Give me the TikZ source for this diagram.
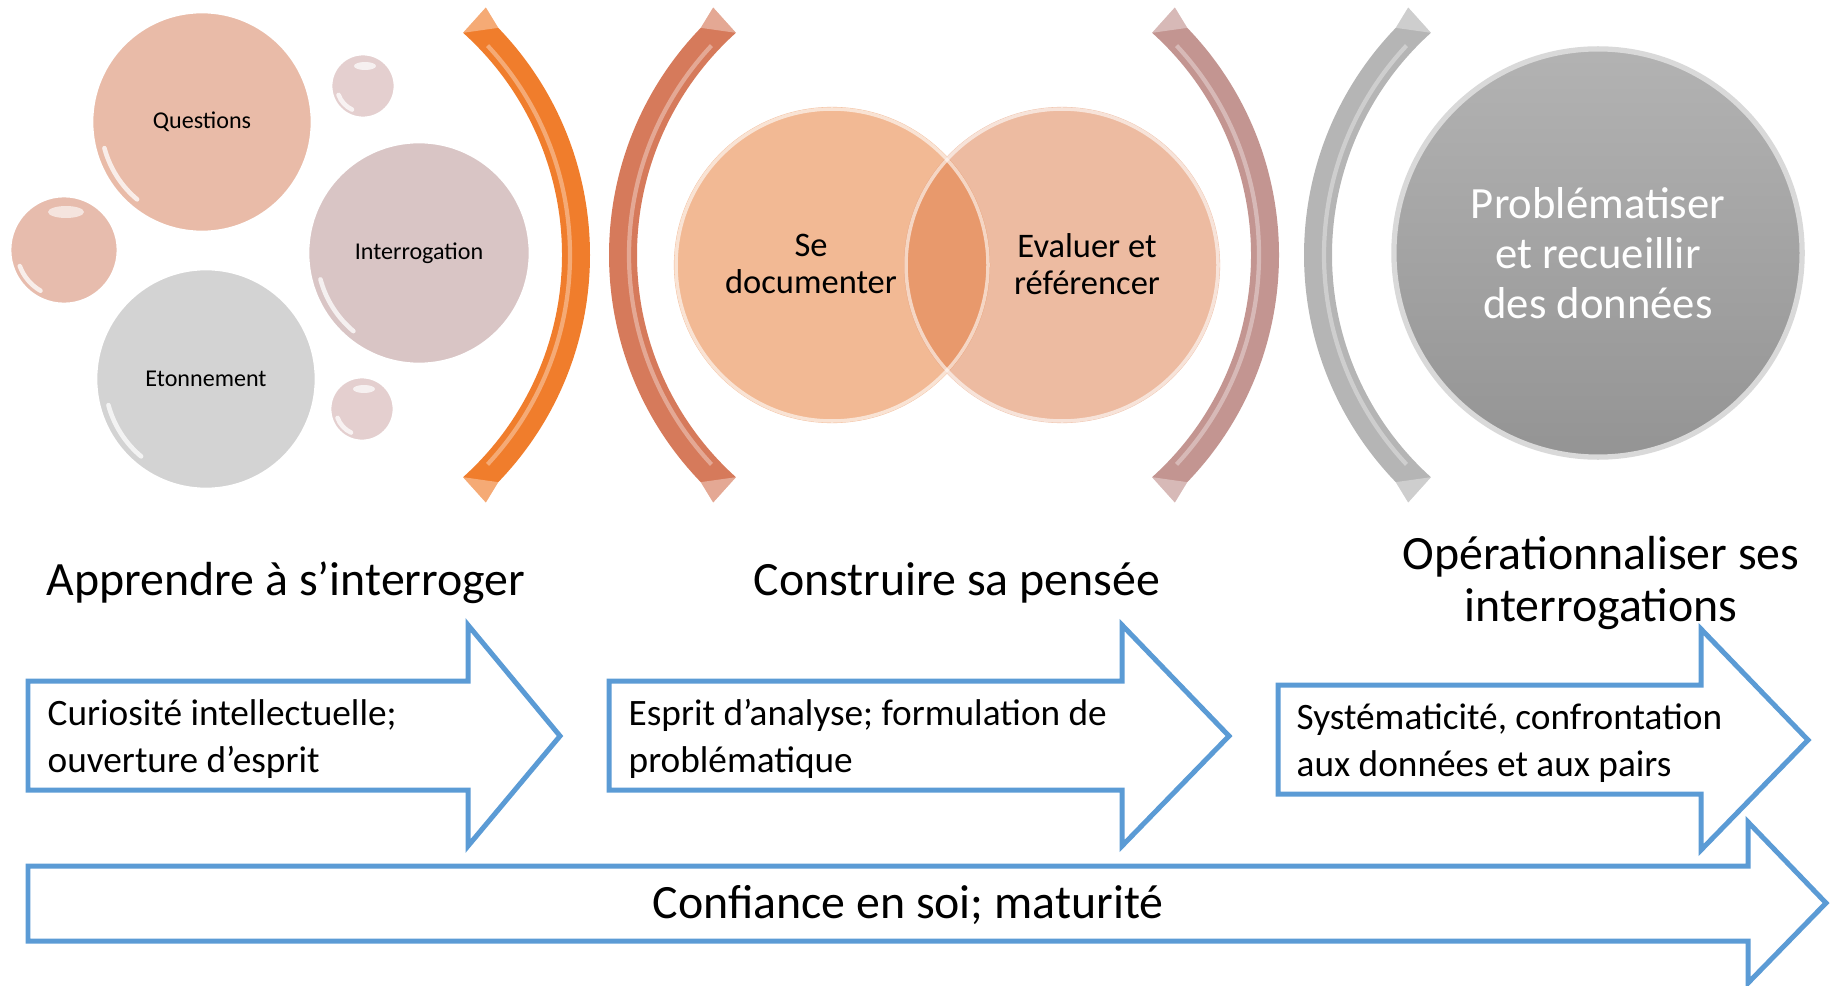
\documentclass[tikz,border=0pt]{standalone}
\usepackage{fontspec}
\setmainfont{Carlito}
\usepackage{xcolor}
\usepackage{tikz}

\definecolor{qsalmon}{HTML}{E9BBA8}
\definecolor{irose}{HTML}{D9C5C5}
\definecolor{egrey}{HTML}{D3D3D3}
\definecolor{dropsalmon}{HTML}{E7BCAD}
\definecolor{droprose}{HTML}{E4CFCF}
\definecolor{parenorange}{HTML}{F07D2C}
\definecolor{parenbrick}{HTML}{D67A5B}
\definecolor{parenmauve}{HTML}{C39591}
\definecolor{parengrey}{HTML}{B5B5B5}
\definecolor{vennleft}{HTML}{F2B994}
\definecolor{vennright}{HTML}{EDBBA1}
\definecolor{vennlens}{HTML}{E8996C}
\definecolor{arrowblue}{HTML}{5B9BD5}

\begin{document}
\begin{tikzpicture}[x=0.01cm, y=0.01cm,
    bubble/.style={circle, inner sep=0pt, draw=white, line width=0.8pt,
        font=\fontsize{6.85}{8}\selectfont},
    glint/.style={white, line width=1.3pt, opacity=.75, line cap=round},
    venn/.style={circle, inner sep=0pt, minimum size=3.16cm, fill=#1},
    vennlabel/.style={align=center, inner sep=0pt, font=\fontsize{9.8}{10.6}\selectfont},
    title/.style={align=center, inner sep=0pt, font=\fontsize{13.6}{15}\selectfont},
    flowarrow/.style={draw=arrowblue, line width=1.42pt, fill=white},
    arrowtext/.style={anchor=west, align=left, inner sep=0pt, font=\fontsize{10.6}{13.4}\selectfont},
    pics/paren/.style={code={
        \fill[#1] (-44:327) arc[start angle=-44, end angle=44, radius=327]
            -- (48:333) -- (48:299) arc[start angle=48, end angle=-48, radius=299]
            -- (-48:333) -- cycle;
        \fill[white, opacity=.35] (44:327) -- (48:333) -- (48:299) -- cycle;
        \fill[white, opacity=.35] (-44:327) -- (-48:333) -- (-48:299) -- cycle;
        \draw[white, opacity=.35, line width=1.2pt] (-43:307) arc[start angle=-43, end angle=43, radius=307];
    }}]
    \useasboundingbox (0,0) rectangle (1837,-985);

    % Apprendre a s'interroger
    \node[bubble, fill=qsalmon, minimum size=2.2cm] (questions) at (202,-122) {Questions};
    \node[bubble, fill=irose, minimum size=2.22cm] (interrogation) at (419,-253) {Interrogation};
    \node[bubble, fill=egrey, minimum size=2.2cm] (etonnement) at (206,-379) {Etonnement};
    \node[bubble, fill=dropsalmon, minimum size=1.08cm] (dropleft) at (64,-250) {};
    \node[bubble, fill=droprose, minimum size=0.64cm] (droptop) at (363,-86) {};
    \node[bubble, fill=droprose, minimum size=0.64cm] (dropbottom) at (362,-409) {};
    \draw[glint] (questions.center) ++(195:101) arc[start angle=195, end angle=230, radius=101];
    \draw[glint] (interrogation.center) ++(195:102) arc[start angle=195, end angle=230, radius=102];
    \draw[glint] (etonnement.center) ++(195:101) arc[start angle=195, end angle=230, radius=101];
    \draw[glint] (dropleft.center) ++(200:47) arc[start angle=200, end angle=240, radius=47];
    \draw[glint] (droptop.center) ++(200:26) arc[start angle=200, end angle=245, radius=26];
    \draw[glint] (dropbottom.center) ++(200:26) arc[start angle=200, end angle=245, radius=26];
    \fill[white, opacity=.7] (droptop.center) ++(2,20) ellipse[x radius=11, y radius=4];
    \fill[white, opacity=.7] (dropbottom.center) ++(2,20) ellipse[x radius=11, y radius=4];
    \fill[white, opacity=.6] (dropleft.center) ++(2,38) ellipse[x radius=18, y radius=6];

    % parentheses
    \pic at (263,-255) {paren=parenorange};
    \pic[xscale=-1] at (936,-255) {paren=parenbrick};
    \pic at (952,-255) {paren=parenmauve};
    \pic[xscale=-1] at (1631,-255) {paren=parengrey};

    % Construire sa pensee
    \node[venn=vennleft] (sedoc) at (832,-265) {};
    \node[venn=vennright] (evalref) at (1062,-265) {};
    \begin{scope}
        \clip (sedoc.center) circle[radius=158];
        \fill[vennlens] (evalref.center) circle[radius=158];
    \end{scope}
    \draw[white, opacity=.6, line width=1pt] (sedoc.center) circle[radius=156];
    \draw[white, opacity=.6, line width=1pt] (evalref.center) circle[radius=156];
    \node[vennlabel] (sedoctext) at (811,-264) {Se\\documenter};
    \node[vennlabel] (evalreftext) at (1087,-264) {Evaluer et\\référencer};

    % Operationnaliser
    \node[circle, minimum size=4.08cm, top color=black!30, bottom color=black!42,
        draw=white!85!black, line width=1.5pt, text=white, align=center,
        font=\fontsize{12.7}{14.2}\selectfont] (bigdisc) at (1598,-253)
        {Problématiser\\et recueillir\\des données};

    % titles
    \node[title] (learntitle) at (286,-583) {Apprendre à s’interroger};
    \node[title] (thinktitle) at (957,-583) {Construire sa pensée};
    \node[title] (optitle) at (1601,-583) {Opérationnaliser ses\\interrogations};

    % arrows
    \draw[flowarrow] (28,-681) -- (468,-681) -- (468,-625) -- (560,-736)
        -- (468,-846) -- (468,-790) -- (28,-790) -- cycle;
    \draw[flowarrow] (609,-681) -- (1122,-681) -- (1122,-625) -- (1229,-736)
        -- (1122,-846) -- (1122,-790) -- (609,-790) -- cycle;
    \draw[flowarrow] (1278,-685) -- (1701,-685) -- (1701,-629) -- (1808,-740)
        -- (1701,-850) -- (1701,-794) -- (1278,-794) -- cycle;
    \draw[flowarrow] (28,-866) -- (1748,-866) -- (1748,-822) -- (1826,-903)
        -- (1748,-983) -- (1748,-941) -- (28,-941) -- cycle;
    \node[arrowtext] (curiosity) at (47,-739) {Curiosité intellectuelle;\\ouverture d’esprit};
    \node[arrowtext] (analysis) at (628,-739) {Esprit d’analyse; formulation de\\problématique};
    \node[arrowtext] (system) at (1296,-743) {Systématicité, confrontation\\aux données et aux pairs};
    \node[title] (confidence) at (908,-905) {Confiance en soi; maturité};
\end{tikzpicture}
\end{document}
